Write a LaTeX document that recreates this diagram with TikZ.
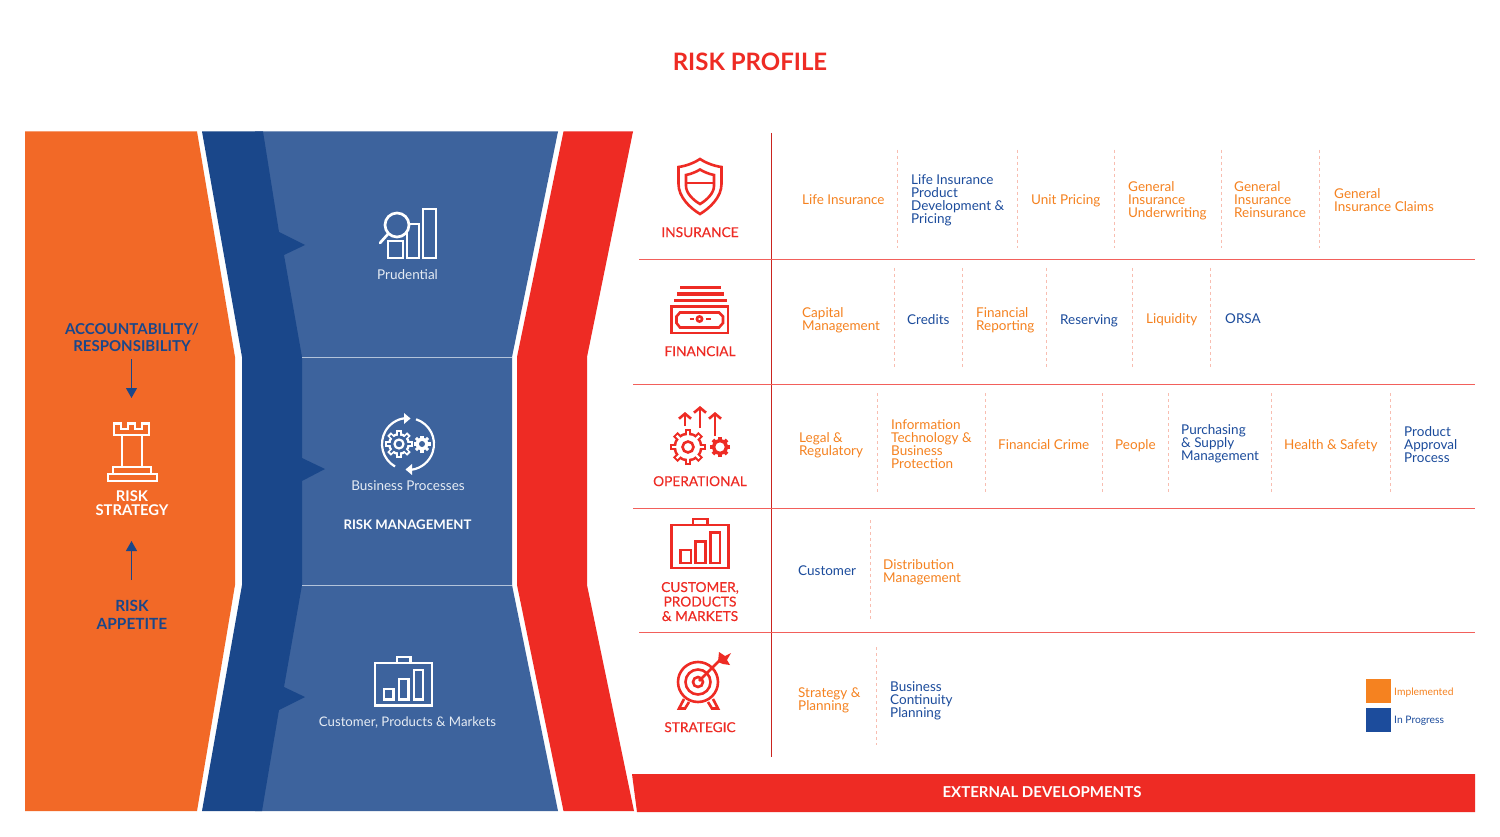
\documentclass[tikz,border=0pt]{standalone}
\usepackage{fontspec}
\setmainfont{Lato}
\newfontfamily\catfont[FakeBold=0.3]{Lato}
\usetikzlibrary{arrows.meta}
\definecolor{cOrange}{HTML}{F26927}
\definecolor{cDark}{HTML}{1A478A}
\definecolor{cMid}{HTML}{3D639D}
\definecolor{cRed}{HTML}{EE2B24}
\definecolor{tOrange}{HTML}{F58220}
\definecolor{tBlue}{HTML}{1C4C9C}
\definecolor{cDash}{HTML}{F8BDB0}
\definecolor{cLight}{HTML}{E6ECF4}
\newcommand{\mygear}[6]{% x,y,rOuter,rBody,rHole,colour
\begin{scope}[shift={(#1,#2)}]
\foreach \a in {0,45,...,135}{\draw[#6,line width=0.36*#3] (\a:#3) -- (\a+180:#3);}
\fill[#6] (0,0) circle[radius=#4];
\end{scope}}
\newcommand{\mygearin}[6]{%
\begin{scope}[shift={(#1,#2)}]
\foreach \a in {0,45,...,135}{\draw[#6,line width=0.13*#3] (\a:#3-2) -- (\a+180:#3-2);}
\fill[#6] (0,0) circle[radius=#4-2.5];
\end{scope}}
\tikzset{
 it/.style={inner sep=0pt,align=left,font=\fontsize{13.5}{13}\selectfont,anchor=west,yshift=-2.6pt,execute at begin node=\strut,execute at end node=\strut},
 ob/.style={it,text=tOrange},
 bl/.style={it,text=tBlue},
 obm/.style={ob,yshift=1pt},
 blm/.style={bl,yshift=1pt},
 cat/.style={inner sep=0pt,align=center,text=cRed,font=\catfont\fontsize{13.7}{14.5}\selectfont,execute at begin node=\strut,execute at end node=\strut,yshift=-2.2pt},
 mid/.style={inner sep=0pt,align=center,text=cLight,font=\fontsize{13.5}{14}\selectfont,yshift=-0.8pt},
 lhs/.style={inner sep=0pt,align=center,font=\fontsize{15}{17}\selectfont\bfseries},
 dv/.style={cDash,line width=0.7pt,dash pattern=on 3pt off 3pt},
 hl/.style={draw=cRed!75,line width=0.8pt},
 arr/.style={cDark,line width=1pt,-{Triangle[length=10pt,width=11pt]}},
 wic/.style={draw=white,line width=2.7pt,line join=miter},
 ric/.style={draw=cRed,line width=2.6pt,line join=miter}
}
\begin{document}
\begin{tikzpicture}[x=1pt,y=-1pt]
\useasboundingbox (0,0) rectangle (1500,837);
\fill[white] (0,0) rectangle (1500,837);
% panels
\fill[cOrange] (25,131.5) -- (197,131.5) -- (235,357) -- (235,585) -- (197,811) -- (25,811) -- cycle;
\fill[cMid] (255,131.5) -- (558,131.5) -- (512,357) -- (512,585) -- (558,811) -- (255,811) -- cycle;
\fill[cDark] (202,131.5) -- (263,131.5) -- (279,232) -- (305,245) -- (284,255) -- (302,357) -- (302,458) -- (325,469) -- (302,481) -- (302,585) -- (284,687) -- (305,697) -- (279,710) -- (262,811) -- (202,811) -- (242,585) -- (242,357) -- cycle;
\fill[cRed] (563.5,131.5) -- (633,131.5) -- (587,357) -- (587,585) -- (634,811) -- (563.5,811) -- (517,585) -- (517,357) -- cycle;
\draw[cLight!70!cMid,line width=0.8pt] (302,357) -- (512,357) (302,585) -- (512,585);
\fill[cRed] (632,774) -- (1475,774) -- (1475,812) -- (637,812) -- cycle;
% title
\node[inner sep=0pt,text=cRed,font=\fontsize{24}{26}\selectfont\bfseries] (title) at (750,62) {RISK PROFILE};
\node[inner sep=0pt,text=white,font=\fontsize{15}{16}\selectfont\bfseries] (ext) at (1042,792.5) {EXTERNAL DEVELOPMENTS};
% left labels
\node[lhs,text=cDark] (acc) at (132,337.5) {ACCOUNTABILITY/\\RESPONSIBILITY};
\coordinate (accEnd) at (131.5,398);
\draw[arr] (131.5,359) -- (accEnd);
\node[lhs,text=white,font=\fontsize{14.8}{14}\selectfont\bfseries] (strat) at (132,503) {RISK\\STRATEGY};
\node[lhs,text=cDark,font=\fontsize{15.4}{18}\selectfont\bfseries] (app) at (132,614.5) {RISK\\APPETITE};
\coordinate (appEnd) at (131.5,541);
\draw[arr] (131.5,580) -- (appEnd);
% rook
\draw[wic] (122,435) -- (114,435) -- (114,423.5) -- (121,423.5) -- (121,429) -- (128,429) -- (128,423.5) -- (135,423.5) -- (135,429) -- (142,429) -- (142,423.5) -- (149,423.5) -- (149,435) -- (142,435) -- (142,467) -- (122,467) -- cycle;
\draw[wic] (114,435) -- (149,435);
\draw[wic] (113,467) rectangle (151,474);
\draw[wic] (108,474) rectangle (157,481);
% middle labels
\node[mid] (prud) at (407.5,274) {Prudential};
\node[mid] (bp) at (408,485) {Business Processes};
\node[inner sep=0pt,text=white,font=\fontsize{13.2}{15}\selectfont\bfseries] (rm) at (407.5,524.5) {RISK MANAGEMENT};
\node[mid,font=\fontsize{13.2}{14}\selectfont] (cpm) at (407.5,722) {Customer, Products \& Markets};
% prudential icon
\draw[wic] (423,209) rectangle (436,258);
\draw[wic] (407,224) rectangle (419,258);
\draw[wic] (388,241) rectangle (403,258);
\draw[wic,fill=cMid] (397,225) circle[radius=12];
\draw[wic,line cap=round] (388,234) -- (380,243);
% processes icon
\begin{scope}[shift={(408,444)}]
\draw[draw=white,line width=2.2pt] (120:26) arc[start angle=120,end angle=262,radius=26];
\draw[draw=white,line width=2.2pt] (-72:26) arc[start angle=-72,end angle=82,radius=26];
\end{scope}
\fill[white] (404,413) -- (410.5,418.5) -- (404,424) -- cycle;
\fill[white] (412,464) -- (405.5,469.5) -- (412,475) -- cycle;
\mygear{399}{444}{14}{11}{0}{white}
\mygearin{399}{444}{14}{11}{0}{cMid}
\draw[white,line width=2.2pt] (399,444) circle[radius=4.5];
\mygear{422}{444}{8.5}{6.3}{0}{white}
\fill[cMid] (422,444) circle[radius=3];
% briefcase white
\draw[wic] (375,663) rectangle (432,705.5);
\draw[wic] (397,663) -- (397,657) -- (410.5,657) -- (410.5,663);
\draw[wic] (384,689) rectangle (393.5,699.5);
\draw[wic] (399,679) rectangle (408.5,699.5);
\draw[wic] (414,670) rectangle (423,699.5);
% category labels
\node[cat] (c1) at (700,232) {INSURANCE};
\node[cat] (c2) at (700,351) {FINANCIAL};
\node[cat] (c3) at (700,481) {OPERATIONAL};
\node[cat] (c4) at (700,601.5) {CUSTOMER,\\PRODUCTS\\\& MARKETS};
\node[cat] (c5) at (700,727) {STRATEGIC};
% shield
\draw[ric] (700,159) .. controls (694,163) and (686,166) .. (678.5,167) -- (678.5,184) .. controls (678.5,197) and (690,208) .. (700,214) .. controls (710,208) and (721.5,197) .. (721.5,184) -- (721.5,167) .. controls (714,166) and (706,163) .. (700,159) -- cycle;
\draw[ric] (700,169.5) .. controls (696,172) and (691,174) .. (686,175) -- (686,186) .. controls (686,193) and (693,200) .. (700,204) .. controls (707,200) and (714,193) .. (714,186) -- (714,175) .. controls (709,174) and (704,172) .. (700,169.5) -- cycle;
\draw[ric] (686,183) -- (714,183);
% financial
\draw[ric,line width=3pt] (680,288) -- (721,288) (677,294) -- (724,294) (674,300) -- (727,300);
\draw[ric] (671.5,306.5) rectangle (728,333);
\draw[ric] (680,312.5) -- (719,312.5) -- (723,316.5) -- (723,323) -- (719,327.5) -- (680,327.5) -- (676.5,323) -- (676.5,316.5) -- cycle;
\draw[ric] (699.5,319) circle[radius=2.6];
\draw[ric] (689.5,319) -- (693.5,319) (706,319) -- (710.5,319);
% operational
\mygear{688}{447}{18}{14.5}{0}{cRed}
\mygearin{688}{447}{18}{14.5}{0}{white}
\draw[ric] (688,447) circle[radius=5.5];
\mygear{720}{447}{10}{8}{0}{cRed}
\fill[white] (720,447) circle[radius=4.6];
\draw[cRed,line width=2.6pt,-{Straight Barb[length=5pt,width=12pt]}] (685,426) -- (685,412);
\draw[cRed,line width=2.6pt,-{Straight Barb[length=5pt,width=12pt]}] (700,428) -- (700,406);
\draw[cRed,line width=2.6pt,-{Straight Barb[length=5pt,width=12pt]}] (715,436) -- (715,412);
% customer briefcase
\draw[ric] (671.5,525) rectangle (728.5,568);
\draw[ric] (693,525) -- (693,519) -- (707.5,519) -- (707.5,525);
\draw[ric] (680.5,550) rectangle (691,563);
\draw[ric] (695.5,541.5) rectangle (705.5,563);
\draw[ric] (710.5,532.5) rectangle (720,563);
% target
\draw[ric] (698,682) circle[radius=20];
\draw[ric] (698,682) circle[radius=12.5];
\draw[ric] (698,682) circle[radius=5];
\draw[ric] (699,681) -- (720,660);
\fill[cRed] (718,662) -- (719,652) -- (725,656) -- (731,653) -- (727,660) -- (730,665) -- (723,664) -- cycle;
\draw[ric] (684,699) -- (679,708.5) -- (685,708.5) -- (689,702);
\draw[ric] (713,699) -- (718,708.5) -- (712,708.5) -- (708,702);
% rules
\draw[cRed!85!black,line width=0.7pt] (771,133) -- (771,757);
\draw[hl] (639,259) -- (1475,259);
\draw[hl] (633,384) -- (1475,384);
\draw[hl] (633,508) -- (1475,508);
\draw[hl] (639,632) -- (1475,632);
% dividers
\foreach \x in {897,1017,1114,1221,1319} \draw[dv] (\x,150) -- (\x,248);
\foreach \x in {894,962,1046,1132,1210} \draw[dv] (\x,268) -- (\x,368);
\foreach \x in {877,985,1102,1168,1271,1390} \draw[dv] (\x,393) -- (\x,493);
\draw[dv] (870,520) -- (870,620);
\draw[dv] (876,647) -- (876,745);
% row 1
\node[ob] (r1a) at (802,199) {Life Insurance};
\node[blm] (r1b) at (911,199.5) {Life Insurance\\Product\\Development \&\\Pricing};
\node[ob] (r1c) at (1031,199) {Unit Pricing};
\node[obm] (r1d) at (1128,199.5) {General\\Insurance\\Underwriting};
\node[obm] (r1e) at (1234,199.5) {General\\Insurance\\Reinsurance};
\node[ob] (r1f) at (1334,199.5) {General\\Insurance Claims};
% row 2
\node[obm] (r2a) at (802,319) {Capital\\Management};
\node[bl] (r2b) at (907,319) {Credits};
\node[obm] (r2c) at (976,319) {Financial\\Reporting};
\node[bl] (r2d) at (1060,319) {Reserving};
\node[ob] (r2e) at (1146,318) {Liquidity};
\node[bl] (r2f) at (1225,318) {ORSA};
% row 3
\node[ob] (r3a) at (799,443.5) {Legal \&\\Regulatory};
\node[obm] (r3b) at (891,444) {Information\\Technology \&\\Business\\Protection};
\node[ob] (r3c) at (998,444) {Financial Crime};
\node[ob] (r3d) at (1115,444) {People};
\node[blm] (r3e) at (1181,442.5) {Purchasing\\\& Supply\\Management};
\node[ob] (r3f) at (1284,444) {Health \& Safety};
\node[bl] (r3g) at (1404,444) {Product\\Approval\\Process};
% row 4
\node[bl] (r4a) at (798,569.5) {Customer};
\node[ob] (r4b) at (883,570) {Distribution\\Management};
% row 5
\node[obm] (r5a) at (798,699.5) {Strategy \&\\Planning};
\node[blm] (r5b) at (890,699.5) {Business\\Continuity\\Planning};
% legend
\fill[tOrange] (1366,679) rectangle (1391,703);
\fill[tBlue] (1366,708) rectangle (1391,732);
\node[ob,font=\fontsize{10.3}{10}\selectfont] (l1) at (1394,690.5) {Implemented};
\node[bl,font=\fontsize{10.3}{10}\selectfont] (l2) at (1394,718.5) {In Progress};
\end{tikzpicture}
\end{document}
